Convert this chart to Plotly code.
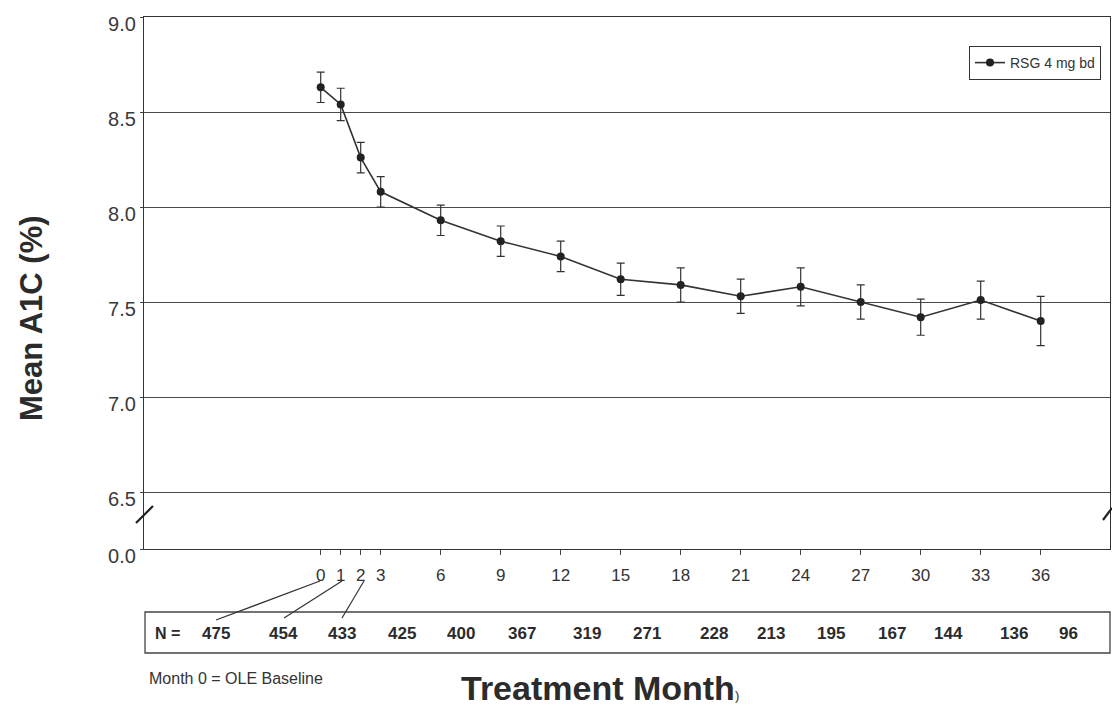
"""
Mean A1C over treatment months (RSG 4 mg bd) with N-at-risk row.
"""

import plotly.graph_objects as go

# Data
months = [0, 1, 2, 3, 6, 9, 12, 15, 18, 21, 24, 27, 30, 33, 36]
mean_a1c = [8.63, 8.54, 8.26, 8.08, 7.93, 7.82, 7.74, 7.62, 7.59, 7.53, 7.58, 7.50, 7.42, 7.51, 7.40]
a1c_err = [0.08, 0.085, 0.08, 0.08, 0.08, 0.08, 0.08, 0.085, 0.09, 0.09, 0.10, 0.09, 0.095, 0.10, 0.13]
n_patients = [475, 454, 433, 425, 400, 367, 319, 271, 228, 213, 195, 167, 144, 136, 96]

# Axis ticks (y axis is broken between 0.0 and 6.5)
y_tickvals = [6.2, 6.5, 7.0, 7.5, 8.0, 8.5, 9.0]
y_ticktext = ["0.0", "6.5", "7.0", "7.5", "8.0", "8.5", "9.0"]
x_tickvals = months
x_ticktext = [str(m) for m in months]

# Layout only: where the N labels sit along the month axis
n_label_pos = [-5.24, -1.84, 1.05, 4.05, 7.0, 10.05, 13.3, 16.3, 19.67, 22.5, 25.5, 28.55, 31.4, 34.67, 37.4]

# page pixels; the html body adds an 8px margin on every side,
# so the figure is sized to fit the 1120x715 window without scrollbars
OFF = 8
W, H = 1120 - 2 * OFF, 715 - 2 * OFF
PLOT_L, PLOT_R, PLOT_T, PLOT_B = 144, 1110, 17, 549   # plot area in page pixels
L, T = PLOT_L - OFF, PLOT_T - OFF
R, B = W - (PLOT_R - OFF), H - (PLOT_B - OFF)
PW, PH = PLOT_R - PLOT_L, PLOT_B - PLOT_T

FONT = "Arial, Liberation Sans, sans-serif"
INK = "#2b2b2b"


def px_x(px):
    """Page pixel x -> paper x."""
    return (px - PLOT_L) / PW


def px_y(py):
    """Page pixel y -> paper y."""
    return (PLOT_B - py) / PH


def build_figure():
    fig = go.Figure()

    fig.add_trace(go.Scatter(
        x=months,
        y=mean_a1c,
        mode="lines+markers",
        name="RSG 4 mg bd",
        line=dict(color="#333333", width=1.6),
        marker=dict(symbol="circle", size=8, color="#222222"),
        error_y=dict(type="data", array=a1c_err, visible=True,
                     color="#333333", thickness=1.2, width=4),
    ))

    shapes = []
    # N table box
    shapes.append(dict(type="rect", xref="paper", yref="paper",
                       x0=px_x(145), x1=px_x(1110), y0=px_y(653), y1=px_y(612),
                       line=dict(color="#444444", width=1.3)))
    # leader lines from months 0, 1, 2 to their N values
    for x0, x1, y1 in [(320, 216, 620), (342, 284, 618), (364, 342, 618)]:
        shapes.append(dict(type="line", xref="paper", yref="paper",
                           x0=px_x(x0), y0=px_y(581), x1=px_x(x1), y1=px_y(y1),
                           line=dict(color="#333333", width=1.2)))
    # axis break marks
    shapes.append(dict(type="line", xref="paper", yref="paper",
                       x0=px_x(136), y0=px_y(523), x1=px_x(153), y1=px_y(506),
                       line=dict(color="#222222", width=2.2)))
    shapes.append(dict(type="line", xref="paper", yref="paper",
                       x0=px_x(1103), y0=px_y(520), x1=px_x(1112), y1=px_y(508),
                       line=dict(color="#222222", width=2.2)))

    annotations = []
    annotations.append(dict(text="<b>N =</b>", x=px_x(167), y=px_y(633), xref="paper", yref="paper",
                            showarrow=False, font=dict(family=FONT, size=16, color=INK),
                            xanchor="center", yanchor="middle"))
    for pos, n in zip(n_label_pos, n_patients):
        annotations.append(dict(text="<b>%d</b>" % n, x=pos, y=px_y(633), xref="x", yref="paper",
                                showarrow=False, font=dict(family=FONT, size=17, color=INK),
                                xanchor="center", yanchor="middle"))
    annotations.append(dict(text="Month 0 = OLE Baseline", x=px_x(147), y=px_y(678),
                            xref="paper", yref="paper", showarrow=False,
                            font=dict(family=FONT, size=16, color="#333333"),
                            xanchor="left", yanchor="middle"))
    annotations.append(dict(text="<b>Treatment Month</b><span style='font-size:13px'>)</span>",
                            x=px_x(600), y=px_y(688), xref="paper", yref="paper",
                            showarrow=False, font=dict(family=FONT, size=34, color=INK),
                            xanchor="center", yanchor="middle"))
    annotations.append(dict(text="<b>Mean A1C (%)</b>", x=px_x(31), y=px_y(318),
                            xref="paper", yref="paper", showarrow=False, textangle=-90,
                            font=dict(family=FONT, size=31, color=INK),
                            xanchor="center", yanchor="middle"))

    fig.update_layout(
        width=W, height=H,
        margin=dict(l=L, r=R, t=T, b=B),
        paper_bgcolor="white",
        plot_bgcolor="white",
        font=dict(family=FONT, color="#333333"),
        showlegend=True,
        legend=dict(x=px_x(1101), y=px_y(46), xanchor="right", yanchor="top",
                    bordercolor="#333333", borderwidth=1, bgcolor="white",
                    font=dict(family=FONT, size=14, color="#333333"),
                    itemwidth=30, entrywidth=145, entrywidthmode="pixels"),
        shapes=shapes,
        annotations=annotations,
    )

    # month -> pixel scale kept at 20 px per month, 0 at page x ~321
    fig.update_xaxes(
        range=[(PLOT_L - 320.7) / 20, (PLOT_R - 320.7) / 20],
        tickmode="array", tickvals=x_tickvals, ticktext=x_ticktext,
        ticks="outside", ticklen=5, tickcolor="#444444",
        tickfont=dict(family=FONT, size=17, color="#333333"),
        ticklabelstandoff=5,
        showgrid=False, zeroline=False,
        showline=True, linecolor="#333333", linewidth=1.3, mirror=True,
    )
    fig.update_yaxes(
        range=[6.2, 9.0],
        tickmode="array", tickvals=y_tickvals, ticktext=y_ticktext,
        ticks="outside", ticklen=3, tickcolor="#444444",
        tickfont=dict(family=FONT, size=20, color="#3a3a3a"),
        ticklabelshift=7,
        showgrid=True, gridcolor="#4a4a4a", gridwidth=1.3,
        zeroline=False,
        showline=True, linecolor="#333333", linewidth=1.3, mirror=True,
    )
    return fig


def main():
    fig = build_figure()
    fig.write_html("out.html")


if __name__ == "__main__":
    main()
